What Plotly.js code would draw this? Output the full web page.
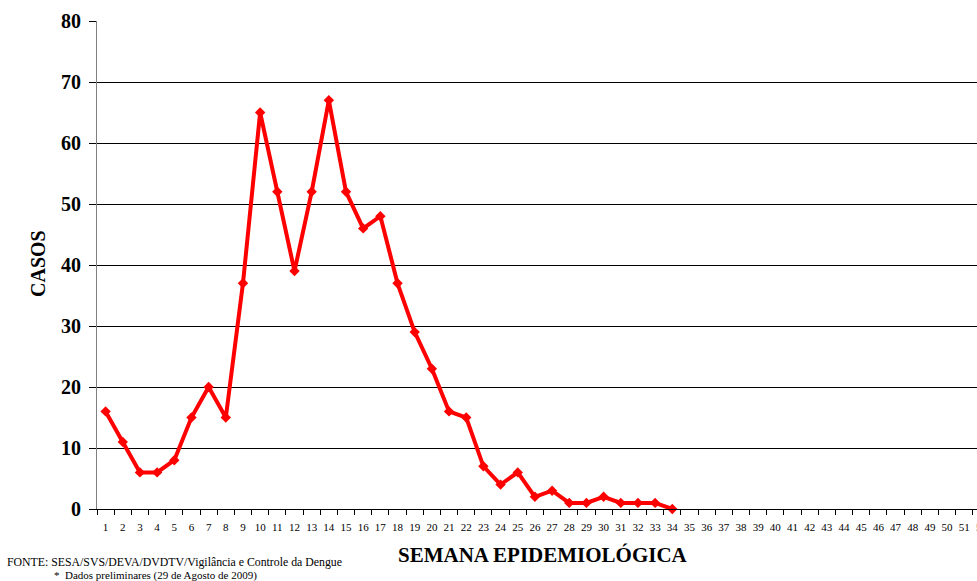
<!DOCTYPE html>
<html>
<head>
<meta charset="utf-8">
<script src="https://cdn.plot.ly/plotly-3.0.1.min.js"></script>
<style>
html,body{margin:0;padding:0;overflow:hidden;background:#fff;}
#chart{width:1000px;height:581px;}
</style>
</head>
<body>
<div id="chart"></div>
<script>
const semanas = Array.from({length: 52}, (_, i) => String(i + 1));
const casosSemanas = ["1","2","3","4","5","6","7","8","9","10","11","12","13","14","15","16","17","18","19","20","21","22","23","24","25","26","27","28","29","30","31","32","33","34"];
const casos = [16, 11, 6, 6, 8, 15, 20, 15, 37, 65, 52, 39, 52, 67, 52, 46, 48, 37, 29, 23, 16, 15, 7, 4, 6, 2, 3, 1, 1, 2, 1, 1, 1, 0];
const yTicks = [0, 10, 20, 30, 40, 50, 60, 70, 80];

const W = 1000, H = 581;
const L = 97, R = 990, T = 21, B = 509;
const px = x => (x - L) / (R - L);
const py = y => (B - y) / (B - T);
const serif = "Liberation Serif, Times New Roman, serif";

const trace = {
  x: casosSemanas,
  y: casos,
  type: 'scatter',
  mode: 'lines+markers',
  line: {color: '#ff0000', width: 4},
  marker: {symbol: 'diamond', size: 8, color: '#ff0000'},
  hoverinfo: 'x+y',
  cliponaxis: false
};

const layout = {
  width: W, height: H,
  margin: {l: L, r: W - R, t: T, b: H - B},
  paper_bgcolor: '#ffffff',
  plot_bgcolor: '#ffffff',
  showlegend: false,
  font: {family: serif, color: '#000000'},
  xaxis: {
    type: 'category',
    categoryorder: 'array',
    categoryarray: semanas,
    range: [-0.5, 51.5],
    tickson: 'boundaries',
    tickangle: 0,
    automargin: false,
    ticks: 'outside',
    ticklen: 5,
    tickcolor: '#000000',
    tickwidth: 1,
    ticklabelstandoff: 8,
    showline: true,
    linecolor: '#000000',
    linewidth: 1,
    showgrid: false,
    zeroline: false,
    tickfont: {family: serif, size: 11, color: '#000000'},
    fixedrange: true
  },
  yaxis: {
    range: [0, 80],
    tickvals: yTicks,
    ticktext: yTicks.map(String),
    automargin: false,
    ticks: 'outside',
    ticklen: 7,
    tickcolor: '#000000',
    tickwidth: 1,
    ticklabelstandoff: 4,
    showline: true,
    linecolor: '#808080',
    linewidth: 1,
    showgrid: true,
    gridcolor: '#000000',
    gridwidth: 1,
    zeroline: false,
    tickfont: {family: serif, size: 20, color: '#000000', weight: 'bold'},
    fixedrange: true
  },
  annotations: [
    {text: '<b>SEMANA EPIDEMIOLÓGICA</b>', xref: 'paper', yref: 'paper',
     x: px(543), y: py(555), xanchor: 'center', yanchor: 'middle', showarrow: false,
     font: {family: serif, size: 21, color: '#000000'}},
    {text: '<b>CASOS</b>', xref: 'paper', yref: 'paper',
     x: px(38), y: py(264), xanchor: 'center', yanchor: 'middle', showarrow: false, textangle: -90,
     font: {family: serif, size: 20, color: '#000000'}},
    {text: 'FONTE: SESA/SVS/DEVA/DVDTV/Vigilância e Controle da Dengue', xref: 'paper', yref: 'paper',
     x: px(5), y: py(562), xanchor: 'left', yanchor: 'middle', showarrow: false,
     font: {family: serif, size: 11.8, color: '#000000'}},
    {text: '*  Dados preliminares (29 de Agosto de 2009)', xref: 'paper', yref: 'paper',
     x: px(52), y: py(575), xanchor: 'left', yanchor: 'middle', showarrow: false,
     font: {family: serif, size: 11, color: '#000000'}}
  ]
};

Plotly.newPlot('chart', [trace], layout, {displayModeBar: false, staticPlot: true});
</script>
</body>
</html>
